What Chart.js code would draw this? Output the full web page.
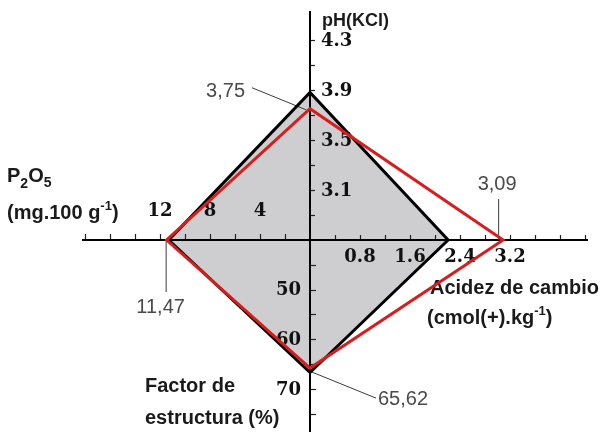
<!DOCTYPE html>
<html>
<head>
<meta charset="utf-8">
<script src="https://cdn.jsdelivr.net/npm/chart.js@4.4.1/dist/chart.umd.min.js"></script>
<style>
  html, body { margin: 0; padding: 0; background: #fff; }
</style>
</head>
<body>
<canvas id="myChart" width="605" height="432"></canvas>
<script>
// arms of the diagram: up = pH, right = acidez, down = factor de estructura, left = P2O5
const profileBlack = [3.88, 2.21, 66.5, 11.3];
const profileRed = [3.75, 3.09, 65.62, 11.47];
const redValueText = ["3,75", "3,09", "65,62", "11,47"];

// tick marks and labelled ticks on each arm
const phTicks = [2.9, 3.1, 3.3, 3.5, 3.7, 3.9, 4.1, 4.3];
const phLabels = [3.1, 3.5, 3.9, 4.3];
const acidTicks = [0.4, 0.8, 1.2, 1.6, 2.0, 2.4, 2.8, 3.2, 3.6, 4.0, 4.4];
const acidLabels = [0.8, 1.6, 2.4, 3.2];
const factorTicks = [45, 50, 55, 60, 65, 70, 75];
const factorLabels = [50, 60, 70];
const p2o5Ticks = [2, 4, 6, 8, 10, 12, 14, 16, 18];
const p2o5Labels = [4, 8, 12];

// value at the crossing point and value per tick spacing of each arm
const PH_ORIGIN = 2.7, PH_STEP = 0.2;
const ACID_ORIGIN = 0, ACID_STEP = 0.4;
const FACTOR_ORIGIN = 40, FACTOR_STEP = 5;
const P2O5_ORIGIN = 0, P2O5_STEP = 2;
// length of each arm counted in tick spacings
const ARM = { up: 9.12, right: 11.08, down: 7.68, left: 9.08 };

const tickFont = { family: "DejaVu Serif", weight: "bold", size: 18 };

function setTicks(values) {
  return scale => { scale.ticks = values.map(v => ({ value: v })); };
}

function onlyLabels(values, digits) {
  return v => values.some(l => Math.abs(l - v) < 1e-6) ? v.toFixed(digits) : "";
}

function drawRuns(ctx, x, y, runs) {
  runs.forEach(([text, size, dy]) => {
    ctx.font = "bold " + size + 'px "Liberation Sans"';
    ctx.fillText(text, x, y + dy);
    x += ctx.measureText(text).width;
  });
}

const axisText = {
  id: "axisText",
  beforeDatasetsDraw(chart) {
    const { ctx, scales } = chart;
    const x0 = scales.acid.getPixelForValue(ACID_ORIGIN);
    const y0 = scales.ph.getPixelForValue(PH_ORIGIN);
    ctx.save();

    // labels of the vertical arms
    ctx.font = 'bold 18px "DejaVu Serif"';
    ctx.fillStyle = "#111";
    ctx.textBaseline = "middle";
    ctx.textAlign = "left";
    phLabels.forEach(v => ctx.fillText(v.toFixed(1), x0 + 11, scales.ph.getPixelForValue(v) + 1));
    ctx.textAlign = "right";
    factorLabels.forEach(v => ctx.fillText(String(v), x0 - 9, scales.factor.getPixelForValue(v)));

    // arm titles
    ctx.textAlign = "left";
    ctx.textBaseline = "alphabetic";
    ctx.fillStyle = "#1a1a1a";
    drawRuns(ctx, x0 + 12, chart.chartArea.top + 14, [["pH(KCl)", 18, 0]]);
    drawRuns(ctx, 7, y0 - 58, [["P", 20, 0], ["2", 14, 6], ["O", 20, 0], ["5", 14, 5]]);
    drawRuns(ctx, 7, y0 - 21, [["(mg.100 g", 20, 0], ["-1", 13, -9], [")", 20, 0]]);
    drawRuns(ctx, x0 + 120, y0 + 54, [["Acidez de cambio", 20, 0]]);
    drawRuns(ctx, x0 + 117, y0 + 84, [["(cmol(+).kg", 20, 0], ["-1", 13, -9], [")", 20, 0]]);
    drawRuns(ctx, x0 - 165, y0 + 152, [["Factor de", 20, 0]]);
    drawRuns(ctx, x0 - 165, y0 + 184, [["estructura (%)", 20, 0]]);

    // values of the red profile with their leader lines
    const top = { x: x0, y: scales.ph.getPixelForValue(profileRed[0]) };
    const right = { x: scales.acid.getPixelForValue(profileRed[1]), y: y0 };
    const bottom = { x: x0, y: scales.factor.getPixelForValue(profileRed[2]) };
    const left = { x: scales.p2o5.getPixelForValue(profileRed[3]), y: y0 };
    ctx.strokeStyle = "#3a3a3a";
    ctx.lineWidth = 1;
    ctx.beginPath();
    ctx.moveTo(top.x - 58, top.y - 21); ctx.lineTo(top.x - 4, top.y + 1);
    ctx.moveTo(right.x - 4.5, y0 - 41); ctx.lineTo(right.x - 4.5, y0);
    ctx.moveTo(left.x - 0.5, y0); ctx.lineTo(left.x - 0.5, y0 + 52);
    ctx.moveTo(bottom.x + 2, bottom.y + 4); ctx.lineTo(bottom.x + 66, bottom.y + 30);
    ctx.stroke();

    ctx.font = '20px "Liberation Sans"';
    ctx.fillStyle = "#4a4a4a";
    ctx.textAlign = "right";
    ctx.fillText(redValueText[0], top.x - 65, top.y - 12);
    ctx.textAlign = "center";
    ctx.fillText(redValueText[1], right.x - 6, y0 - 50);
    ctx.fillText(redValueText[3], left.x - 6, y0 + 73);
    ctx.textAlign = "left";
    ctx.fillText(redValueText[2], bottom.x + 68, bottom.y + 37);
    ctx.restore();
  }
};

const ctx = document.getElementById("myChart").getContext("2d");
const chart = new Chart(ctx, {
  type: "line",
  data: {
    datasets: [
      {
        label: "perfil 1",
        data: [],
        xAxisID: "acid",
        yAxisID: "ph",
        borderColor: "#000",
        borderWidth: 3,
        borderJoinStyle: "miter",
        backgroundColor: "rgb(206, 206, 208)",
        fill: "shape",
        pointRadius: 0,
        pointHoverRadius: 0,
        order: 1
      },
      {
        label: "perfil 2",
        data: [],
        xAxisID: "acid",
        yAxisID: "ph",
        borderColor: "#d81d1d",
        borderWidth: 3,
        borderJoinStyle: "miter",
        fill: false,
        pointRadius: 0,
        pointHoverRadius: 0,
        order: 0
      }
    ]
  },
  options: {
    responsive: false,
    animation: false,
    events: [],
    layout: { autoPadding: false, padding: { left: 83, right: 18, top: 12, bottom: 0 } },
    plugins: {
      legend: { display: false },
      tooltip: { enabled: false },
      filler: { drawTime: "beforeDraw" }
    },
    scales: {
      acid: {
        type: "linear",
        axis: "x",
        position: { ph: PH_ORIGIN },
        min: ACID_ORIGIN - ARM.left * ACID_STEP,
        max: ACID_ORIGIN + ARM.right * ACID_STEP,
        bounds: "data",
        afterBuildTicks: setTicks(acidTicks),
        border: { display: true, color: "#000", width: 2 },
        grid: { drawOnChartArea: false, drawTicks: true, tickLength: -6, tickColor: "#222", tickWidth: 1.2 },
        ticks: { font: tickFont, color: "#111", padding: 13, maxRotation: 0, autoSkip: false, callback: onlyLabels(acidLabels, 1) }
      },
      p2o5: {
        type: "linear",
        axis: "x",
        reverse: true,
        position: { ph: PH_ORIGIN },
        min: P2O5_ORIGIN - ARM.right * P2O5_STEP,
        max: P2O5_ORIGIN + ARM.left * P2O5_STEP,
        bounds: "data",
        afterBuildTicks: setTicks(p2o5Ticks),
        border: { display: false },
        grid: { drawOnChartArea: false, drawTicks: true, tickLength: -6, tickColor: "#222", tickWidth: 1.2 },
        ticks: { font: tickFont, color: "#111", padding: -33, maxRotation: 0, autoSkip: false, callback: onlyLabels(p2o5Labels, 0) }
      },
      ph: {
        type: "linear",
        axis: "y",
        position: { acid: ACID_ORIGIN },
        min: PH_ORIGIN - ARM.down * PH_STEP,
        max: PH_ORIGIN + ARM.up * PH_STEP,
        bounds: "data",
        afterBuildTicks: setTicks(phTicks),
        border: { display: true, color: "#000", width: 2 },
        grid: { drawOnChartArea: false, drawTicks: true, tickLength: -6, tickColor: "#222", tickWidth: 1.2 },
        ticks: { display: false }
      },
      factor: {
        type: "linear",
        axis: "y",
        reverse: true,
        position: { acid: ACID_ORIGIN },
        min: FACTOR_ORIGIN - ARM.up * FACTOR_STEP,
        max: FACTOR_ORIGIN + ARM.down * FACTOR_STEP,
        bounds: "data",
        afterBuildTicks: setTicks(factorTicks),
        border: { display: false },
        grid: { drawOnChartArea: false, drawTicks: true, tickLength: -6, tickColor: "#222", tickWidth: 1.2 },
        ticks: { display: false }
      }
    }
  },
  plugins: [axisText]
});

// vertices go round the four arms; the factor and P2O5 values are carried
// onto the acid/pH scales through their own pixel positions
function armPoints(values) {
  const s = chart.scales;
  const [ph, acid, factor, p2o5] = values;
  const pts = [
    { x: ACID_ORIGIN, y: ph },
    { x: acid, y: PH_ORIGIN },
    { x: ACID_ORIGIN, y: s.ph.getValueForPixel(s.factor.getPixelForValue(factor)) },
    { x: s.acid.getValueForPixel(s.p2o5.getPixelForValue(p2o5)), y: PH_ORIGIN }
  ];
  // run past the start so the top corner is joined too
  return pts.concat([pts[0], pts[1]]);
}

chart.data.datasets[0].data = armPoints(profileBlack);
chart.data.datasets[1].data = armPoints(profileRed);
chart.update("none");
</script>
</body>
</html>
